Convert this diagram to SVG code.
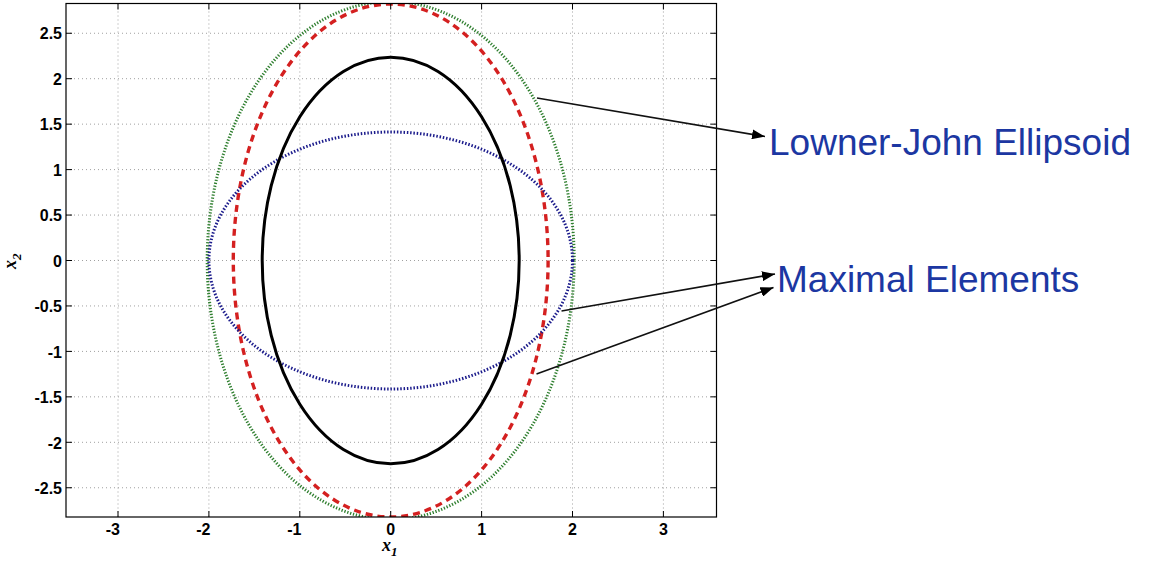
<svg xmlns="http://www.w3.org/2000/svg" width="1152" height="564" viewBox="0 0 1152 564">
<style>
.grid{stroke:#a0a0a0;stroke-width:1;stroke-dasharray:1 3;fill:none}
.tick{stroke:#000;stroke-width:1}
.tl{font-family:"Liberation Sans",Arial,sans-serif;font-weight:bold;font-size:16px;fill:#000}
.ax{font-family:"Liberation Serif","Times New Roman",serif;font-style:italic;font-weight:bold;font-size:18px;fill:#000}
.lbl{font-family:"Liberation Sans",Arial,sans-serif;font-size:37px;fill:#1c37a2}
.arr{stroke:#111;stroke-width:1.6;fill:none;marker-end:url(#ah)}
</style>
<defs>
<clipPath id="plot"><rect x="66" y="3.5" width="650.5" height="513.5"/></clipPath>
<marker id="ah" markerUnits="userSpaceOnUse" markerWidth="14" markerHeight="10" refX="13" refY="5" orient="auto">
<path d="M0,0 L13,5 L0,10 Z" fill="#000"/>
</marker>
</defs>
<rect width="1152" height="564" fill="#fff"/>
<g id="grid">
<path class="grid" d="M118,3.5V517M208.9,3.5V517M299.8,3.5V517M390.7,3.5V517M481.6,3.5V517M572.5,3.5V517M663.4,3.5V517"/>
<path class="grid" d="M66,33.25H716.5M66,78.7H716.5M66,124.15H716.5M66,169.6H716.5M66,215.05H716.5M66,260.5H716.5M66,305.95H716.5M66,351.4H716.5M66,396.85H716.5M66,442.3H716.5M66,487.75H716.5"/>
</g>
<g id="curves" clip-path="url(#plot)">
<ellipse id="lowner-john" cx="390.7" cy="260.5" rx="183.5" ry="259" fill="none" stroke="#2f7f2f" stroke-width="3" stroke-dasharray="1.3 1.7"/>
<ellipse id="red-dashed" cx="390.7" cy="260.5" rx="157.4" ry="256.5" fill="none" stroke="#d42020" stroke-width="3.4" stroke-dasharray="7 5"/>
<ellipse id="blue-dotted" cx="390.7" cy="260.5" rx="181.8" ry="128.5" fill="none" stroke="#1c1c8c" stroke-width="3" stroke-dasharray="1.5 1.8"/>
<ellipse id="black-solid" cx="390.7" cy="260.5" rx="128.5" ry="203.3" fill="none" stroke="#000" stroke-width="3"/>
</g>
<g id="axes">
<rect x="66" y="3.5" width="650.5" height="513.5" fill="none" stroke="#000" stroke-width="1.2"/>
<path class="tick" d="M118,517v-6M208.9,517v-6M299.8,517v-6M390.7,517v-6M481.6,517v-6M572.5,517v-6M663.4,517v-6M118,3.5v6M208.9,3.5v6M299.8,3.5v6M390.7,3.5v6M481.6,3.5v6M572.5,3.5v6M663.4,3.5v6"/>
<path class="tick" d="M66,33.25h6M66,78.7h6M66,124.15h6M66,169.6h6M66,215.05h6M66,260.5h6M66,305.95h6M66,351.4h6M66,396.85h6M66,442.3h6M66,487.75h6M716.5,33.25h-6M716.5,78.7h-6M716.5,124.15h-6M716.5,169.6h-6M716.5,215.05h-6M716.5,260.5h-6M716.5,305.95h-6M716.5,351.4h-6M716.5,396.85h-6M716.5,442.3h-6M716.5,487.75h-6"/>
<g class="tl" text-anchor="end">
<text x="62" y="39">2.5</text>
<text x="62" y="84.5">2</text>
<text x="62" y="130">1.5</text>
<text x="62" y="175.5">1</text>
<text x="62" y="221">0.5</text>
<text x="62" y="266.5">0</text>
<text x="62" y="312">-0.5</text>
<text x="62" y="357.5">-1</text>
<text x="62" y="403">-1.5</text>
<text x="62" y="448.5">-2</text>
<text x="62" y="494">-2.5</text>
<text x="120" y="535">-3</text>
<text x="210.5" y="535">-2</text>
<text x="301.5" y="535">-1</text>
</g>
<g class="tl" text-anchor="middle">
<text x="390.7" y="535">0</text>
<text x="481.6" y="535">1</text>
<text x="572.5" y="535">2</text>
<text x="663.4" y="535">3</text>
</g>
<text class="ax" x="382" y="551">x<tspan font-size="13" dy="5">1</tspan></text>
<text class="ax" transform="translate(16,269) rotate(-90)">x<tspan font-size="13" dy="5">2</tspan></text>
</g>
<g id="connectors">
<line class="arr" x1="537" y1="98" x2="765" y2="136.5"/>
<line class="arr" x1="561.5" y1="311" x2="775" y2="274"/>
<line class="arr" x1="536.5" y1="374" x2="773.5" y2="287.5"/>
</g>
<g id="label-lowner-john"><text class="lbl" x="769" y="155">Lowner-John Ellipsoid</text></g>
<g id="label-maximal"><text class="lbl" x="777" y="292">Maximal Elements</text></g>
</svg>
